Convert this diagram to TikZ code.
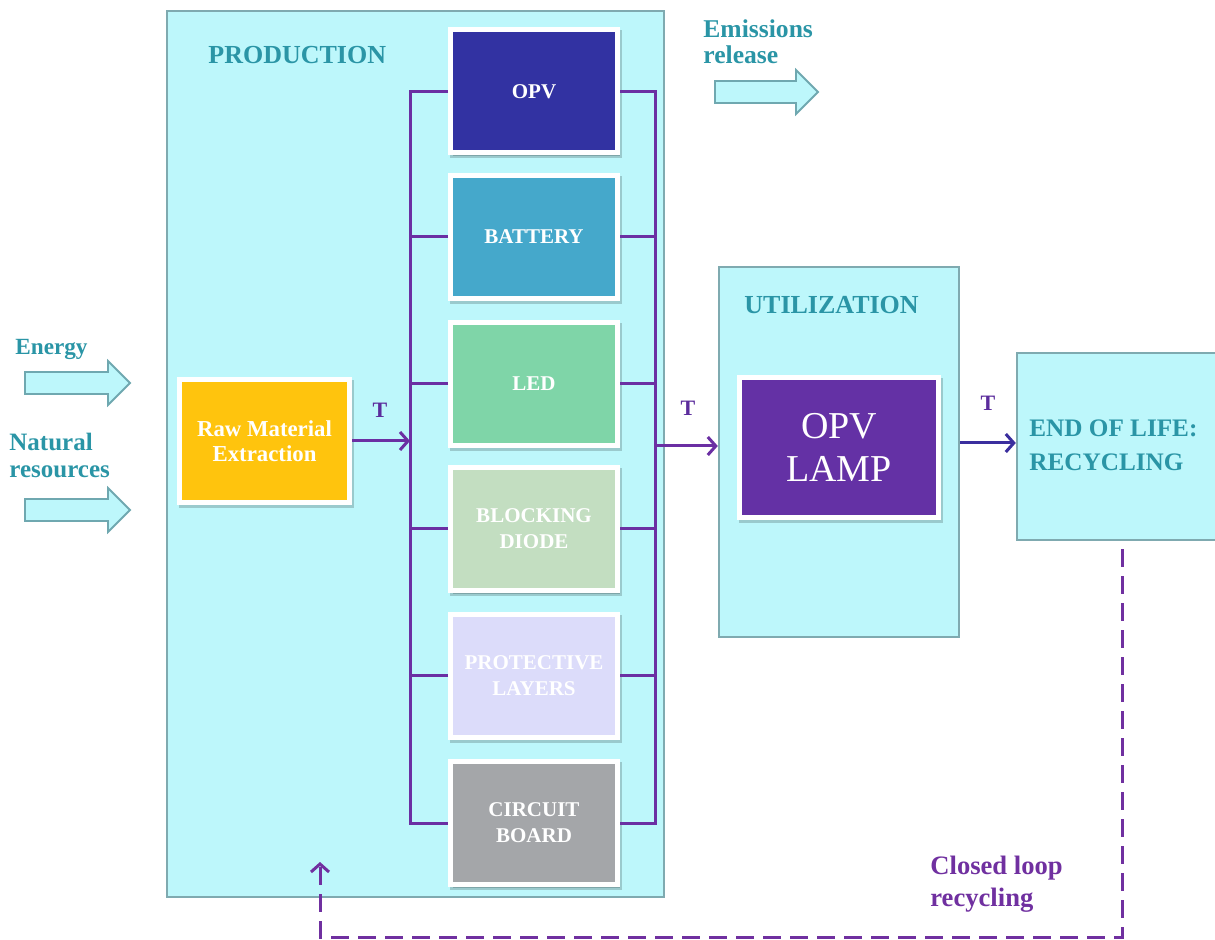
\documentclass[tikz,border=0pt]{standalone}
\usepackage{fontspec}
\setmainfont{Liberation Serif}
\usetikzlibrary{shadows,arrows.meta}
\definecolor{cyanbg}{HTML}{BDF7FB}
\definecolor{cyanline}{HTML}{7FAAB0}
\definecolor{blockline}{HTML}{6FA8B0}
\definecolor{tealtxt}{HTML}{2A95A6}
\definecolor{buscol}{HTML}{6B2FA3}
\definecolor{tcol}{HTML}{5B2C9C}
\definecolor{eolarrow}{HTML}{3B2E9E}
\definecolor{loopcol}{HTML}{7030A0}
\definecolor{opvc}{HTML}{3232A2}
\definecolor{batc}{HTML}{45A8CB}
\definecolor{ledc}{HTML}{7FD5A8}
\definecolor{bdc}{HTML}{C3DEC1}
\definecolor{plc}{HTML}{DCDCFA}
\definecolor{cbc}{HTML}{A4A6A9}
\definecolor{rawc}{HTML}{FFC40D}
\definecolor{lampc}{HTML}{6431A5}
\begin{document}
\begin{tikzpicture}[x=0.5pt,y=-0.5pt,
  region/.style={draw=cyanline,line width=1.2pt,fill=cyanbg,inner sep=0pt},
  comp/.style={draw=white,line width=2.5pt,minimum width=83.5pt,minimum height=61.5pt,
    text=white,font=\bfseries\fontsize{10.5}{13}\selectfont,align=center,
    drop shadow={shadow xshift=1pt,shadow yshift=-1.5pt,opacity=0.18,fill=black,draw=black}},
  bus/.style={draw=buscol,line width=1.5pt},
  flow/.style={line width=1.5pt,-{Straight Barb[length=4pt,width=9pt]}},
  blockarrow/.style={draw=blockline,fill=cyanbg,line width=0.9pt},
  heading/.style={text=tealtxt,font=\bfseries\fontsize{13}{17}\selectfont,anchor=west,inner sep=0pt,align=left},
  sidetext/.style={text=tealtxt,font=\bfseries\fontsize{12.5}{13.5}\selectfont,anchor=west,inner sep=0pt,align=left},
  tlabel/.style={text=tcol,font=\bfseries\fontsize{11}{13}\selectfont,inner sep=0pt}
]
\useasboundingbox (0,0) rectangle (1215,940);
\clip (0,0) rectangle (1215,940);

% regions
\node[region,minimum width=248.5pt,minimum height=443pt] (prod) at (415.5,454) {};
\node[region,minimum width=120pt,minimum height=185pt] (util) at (839,452) {};
\node[region,minimum width=105pt,minimum height=93.5pt] (eol) at (1122,446.5) {};

\node[heading] (prodlbl) at (208,55) {PRODUCTION};
\node[heading] (utillbl) at (744,305) {UTILIZATION};
\node[heading,font=\bfseries\fontsize{12.6}{17}\selectfont] (eollbl) at (1029,445) {END OF LIFE:\\RECYCLING};

% components
\node[comp,fill=opvc] (opv) at (534,91.5) {OPV};
\node[comp,fill=batc] (bat) at (534,237) {BATTERY};
\node[comp,fill=ledc] (led) at (534,384) {LED};
\node[comp,fill=bdc] (bd) at (534,529) {BLOCKING\\DIODE};
\node[comp,fill=plc] (pl) at (534,675.5) {PROTECTIVE\\LAYERS};
\node[comp,fill=cbc] (cb) at (534,823) {CIRCUIT\\BOARD};

\node[comp,fill=rawc,minimum width=85pt,font=\bfseries\fontsize{11.4}{12.5}\selectfont] (raw) at (264.5,441) {Raw Material\\Extraction};
\node[comp,fill=lampc,minimum width=99.5pt,minimum height=70pt,font=\fontsize{19}{21.5}\selectfont] (lamp) at (839,447.5) {OPV\\LAMP};

% buses
\draw[bus] (opv.west) -- ++(-38,0) |- (cb.west);
\foreach \n in {bat,led,bd,pl} \draw[bus] (\n.west) -- ++(-38,0);
\draw[bus] (opv.east) -- ++(35,0) |- (cb.east);
\foreach \n in {bat,led,bd,pl} \draw[bus] (\n.east) -- ++(35,0);

\coordinate (busL) at (410,441);
\coordinate (busR) at (655,446);
\draw[flow,draw=buscol] (raw.east) -- (busL);
\draw[flow,draw=buscol] (busR) -- (util.west |- busR);
\draw[flow,draw=eolarrow] (util.east |- 0,443) -- (eol.west |- 0,443);

\node[tlabel] (t1) at (380,410) {T};
\node[tlabel] (t2) at (688,408) {T};
\node[tlabel] (t3) at (988,403) {T};

% block arrows
\draw[blockarrow] (25,372) -- (108,372) -- (108,361) -- (130,383) -- (108,405) -- (108,394) -- (25,394) -- cycle;
\draw[blockarrow] (25,499) -- (108,499) -- (108,488) -- (130,510) -- (108,532) -- (108,521) -- (25,521) -- cycle;
\draw[blockarrow] (715,81) -- (796,81) -- (796,70) -- (818,92) -- (796,114) -- (796,103) -- (715,103) -- cycle;

\node[sidetext,font=\bfseries\fontsize{11.6}{13.5}\selectfont] (energy) at (15,349) {Energy};
\node[sidetext] (natres) at (9,455) {Natural\\resources};
\node[sidetext,font=\bfseries\fontsize{12.8}{13}\selectfont] (emis) at (703,42) {Emissions\\release};

% closed loop
\coordinate (lb) at (320,937);
\coordinate (loopend) at (320,862);
\draw[line width=1.5pt,draw=loopcol,dash pattern=on 9pt off 4.5pt,-{Straight Barb[length=4pt,width=9pt]}]
  ([yshift=-4pt]eol.south) |- (lb) -- (loopend);
\node[text=loopcol,font=\bfseries\fontsize{13.3}{16}\selectfont,anchor=west,inner sep=0pt,align=left] (closed) at (930,884) {Closed loop\\recycling};
\end{tikzpicture}
\end{document}
